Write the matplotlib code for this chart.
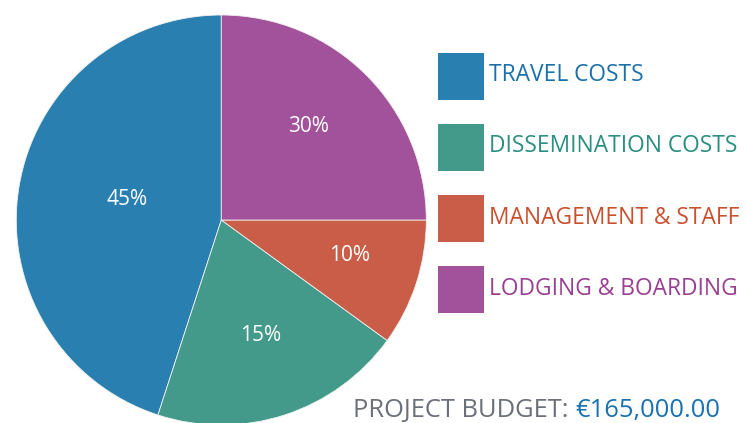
import numpy as np
import matplotlib
matplotlib.use("Agg")
import matplotlib.pyplot as plt
from matplotlib.patches import Rectangle

categories = ["TRAVEL COSTS", "DISSEMINATION COSTS", "MANAGEMENT & STAFF", "LODGING & BOARDING"]
values = [45, 20, 10, 25]
pct_labels = ["45%", "15%", "10%", "30%"]
slice_colors = ["#2a7fb1", "#439a8a", "#c95d47", "#a1529b"]
text_colors = ["#1a70aa", "#2a8f7e", "#c9502f", "#9a3f92"]
budget_label = "PROJECT BUDGET: "
budget_value = "€165,000.00"

plt.rcParams['font.family'] = ['Open Sans', 'DejaVu Sans']

W, H = 750, 423
fig = plt.figure(figsize=(W / 100, H / 100), dpi=100)
ax = fig.add_axes([0, 0, 1, 1])

cx, cy, R = 221.3, 203.0, 205.0
wedges, _ = ax.pie(values, colors=slice_colors, startangle=90, counterclock=True,
                   center=(cx, cy), radius=R,
                   wedgeprops=dict(edgecolor="#f0f0f0", linewidth=0.6))
ax.set_xlim(0, W)
ax.set_ylim(0, H)
ax.set_aspect('equal')
ax.axis('off')

# labels near sector centroids
for w, lab in zip(wedges, pct_labels):
    t1, t2 = np.radians(w.theta1), np.radians(w.theta2)
    a = (t2 - t1) / 2
    mid = (t1 + t2) / 2
    d = 2 * R * np.sin(a) / (3 * a)
    ax.text(cx + d * np.cos(mid), cy + d * np.sin(mid) + 6, lab, color="white",
            fontsize=15, ha='center', va='center')

# legend
sq_x, sq_w, sq_h = 438, 46, 47
top0, step = 52.7, 71.2
for i, (cat, c, tc) in enumerate(zip(categories, slice_colors, text_colors)):
    ytop = H - (top0 + i * step)
    ax.add_patch(Rectangle((sq_x, ytop - sq_h), sq_w, sq_h, facecolor=c, edgecolor='none'))
    ax.text(sq_x + sq_w + 5, ytop - sq_h / 2 + 1, cat, color=tc, fontsize=16.4,
            ha='left', va='center')

# budget line
t = ax.text(353, H - 417.3, budget_label, color="#6b7079", fontsize=18.4,
            ha='left', va='baseline')
fig.canvas.draw()
bb = t.get_window_extent()
x_end = ax.transData.inverted().transform((bb.x1, bb.y0))[0]
ax.text(x_end, H - 417.3, budget_value, color="#1a72b0", fontsize=18.4,
        ha='left', va='baseline')

fig.savefig("out.png", dpi=100, facecolor="white")
